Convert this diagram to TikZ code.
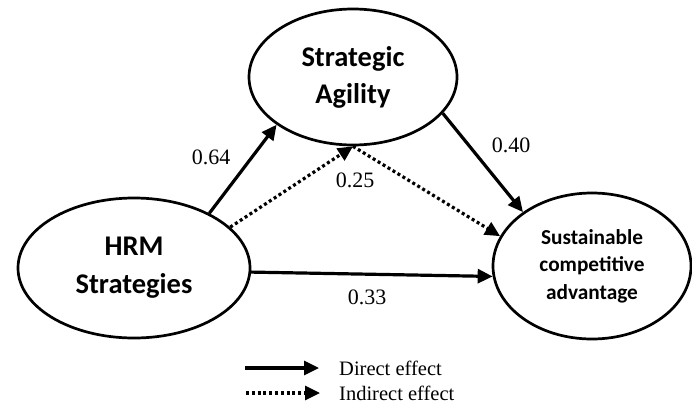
\documentclass[tikz,border=0pt]{standalone}
\usepackage{fontspec}
\setmainfont{Liberation Serif}
\newfontfamily\calib{Carlito}
\usetikzlibrary{shapes.geometric,arrows.meta,positioning}
\begin{document}
\begin{tikzpicture}[x=1pt,y=-1pt]
    \tikzset{
        latent/.style={draw,ellipse,line width=2.7pt,inner sep=0pt,align=center},
        direct/.style={line width=3.2pt,-{Triangle[length=15pt,width=14pt]}},
        indirect/.style={line width=3.2pt,dash pattern=on 3pt off 2.8pt,-{Triangle[length=15pt,width=14pt]}},
        coef/.style={font=\fontsize{22}{26}\selectfont},
        legtext/.style={font=\fontsize{20.5}{24}\selectfont,inner sep=0pt},}
    \useasboundingbox (0,0) rectangle (692,407);
    \node[latent,minimum width=208pt,minimum height=136pt,font=\calib\bfseries\fontsize{28.5}{37}\selectfont] (agil) at (353,77) {Strategic\\Agility};
    \node[latent,minimum width=232pt,minimum height=140pt,font=\calib\bfseries\fontsize{28.5}{38}\selectfont] (hrm) at (134,268) {HRM\\Strategies};
    \node[latent,minimum width=198pt,minimum height=146pt,font=\calib\bfseries\fontsize{21.3}{27.5}\selectfont] (sca) at (592,266) {Sustainable\\competitive\\advantage};
    \draw[direct] (hrm.36) -- (agil.212);
    \draw[direct] (agil.-22) -- (sca.142);
    \draw[direct] (hrm.-2) -- (sca.186);
    \draw[indirect] (hrm.23) -- (agil.south);
    \draw[indirect] (agil.south) -- (sca.162);
    \node[coef] (c64) at (211,157) {0.64};
    \node[coef] (c25) at (355,180) {0.25};
    \node[coef] (c40) at (511,145) {0.40};
    \node[coef] (c33) at (367,297) {0.33};
    % legend
    \coordinate (l1) at (245,368);
    \coordinate (l2) at (319,368);
    \coordinate (l3) at (246,393);
    \coordinate (l4) at (320,393);
    \draw[direct] (l1) -- (l2);
    \draw[indirect] (l3) -- (l4);
    \node[legtext,right=20pt of l2] (leg1) {Direct effect};
    \node[legtext,right=19pt of l4] (leg2) {Indirect effect};
\end{tikzpicture}
\end{document}
